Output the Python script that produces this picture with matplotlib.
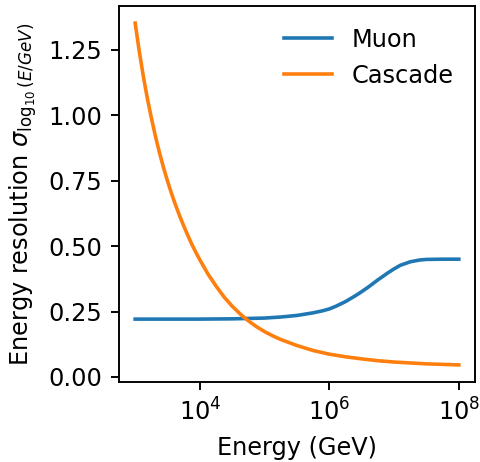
import numpy as np
import matplotlib
matplotlib.use("Agg")
from matplotlib import pyplot as plt

# log10 of energy in GeV
muon_logE = [3.0, 3.5, 4.0, 4.5, 5.0, 5.25, 5.5, 5.75, 5.9, 6.0, 6.1, 6.25, 6.4, 6.5, 6.6, 6.75,
             6.9, 7.0, 7.1, 7.25, 7.4, 7.5, 7.75, 8.0]
muon_res = [0.221, 0.221, 0.221, 0.222, 0.225, 0.229, 0.235, 0.245, 0.253, 0.26, 0.27, 0.288, 0.31,
            0.326, 0.343, 0.371, 0.397, 0.413, 0.427, 0.44, 0.447, 0.449, 0.45, 0.45]

casc_logE = [3.0, 3.0625, 3.125, 3.1875, 3.25, 3.3125, 3.375, 3.4375, 3.5, 3.5625, 3.625, 3.6875,
             3.75, 3.8125, 3.875, 3.9375, 4.0, 4.125, 4.25, 4.375, 4.5, 4.625, 4.75, 4.875, 5.0,
             5.125, 5.25, 5.5, 5.75, 6.0, 6.25, 6.5, 6.75, 7.0, 7.5, 8.0]
casc_res = [1.352, 1.245, 1.15, 1.065, 0.99, 0.92, 0.857, 0.8, 0.748, 0.7, 0.656, 0.615, 0.577,
            0.541, 0.507, 0.476, 0.447, 0.393, 0.347, 0.305, 0.27, 0.24, 0.214, 0.192, 0.173,
            0.157, 0.143, 0.12, 0.101, 0.087, 0.077, 0.069, 0.062, 0.057, 0.05, 0.046]

fig = plt.figure(figsize=(480 / 172.5, 462 / 172.5), dpi=172.5)
ax = fig.add_subplot(1, 1, 1)
ax.plot(10 ** np.array(muon_logE), muon_res, label="Muon")
ax.plot(10 ** np.array(casc_logE), casc_res, label="Cascade")
ax.set_xscale("log")
ax.set_yticks([0.0, 0.25, 0.5, 0.75, 1.0, 1.25])
ax.set_xlabel("Energy (GeV)")
ax.set_ylabel(r"Energy resolution $\sigma_{\log_{10}(E/GeV)}$")
ax.legend(frameon=False, loc="upper right")
fig.subplots_adjust(left=119 / 480, right=475 / 480, top=1 - 6 / 462, bottom=1 - 382 / 462)
fig.savefig("out.png", dpi=172.5)
